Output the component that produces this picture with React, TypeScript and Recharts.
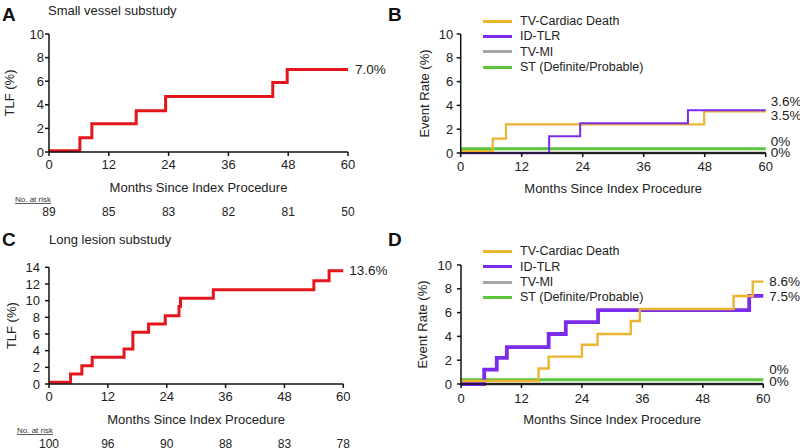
import React from 'react';
import { LineChart, Line, XAxis, YAxis, Legend, LabelList } from 'recharts';

const FONT = '"Liberation Sans", Arial, Helvetica, sans-serif';

const monthTicks = [0, 12, 24, 36, 48, 60];
const xLabel = 'Months Since Index Procedure';

// Panel A – Small vessel substudy (TLF)
const aMonths = [0, 6.2, 8.6, 17.5, 23.4, 44.9, 47.8, 60];
const aTlf = [0.1, 1.2, 2.4, 3.5, 4.7, 5.9, 7.0, 7.0];
const aRisk = [89, 85, 83, 82, 81, 50];
const aYTicks = [0, 2, 4, 6, 8, 10];

// Panel B – Small vessel components
const bDeathMonths = [0, 6.3, 8.9, 47.9, 60];
const bDeath = [0.15, 1.2, 2.4, 3.5, 3.5];
const bTlrMonths = [0, 17.4, 23.5, 44.7, 60];
const bTlr = [0, 1.4, 2.5, 3.6, 3.6];
const bMiMonths = [0, 60];
const bMi = [0, 0];
const bStMonths = [0, 60];
const bSt = [0.35, 0.35];

// Panel C – Long lesion substudy (TLF)
const cMonths = [0, 4.4, 6.7, 8.8, 15.3, 17.1, 20.3, 23.7, 26.5, 26.8, 33.5, 54.0, 57.1, 60];
const cTlf = [0.2, 1.2, 2.2, 3.2, 4.2, 6.2, 7.2, 8.2, 9.3, 10.3, 11.3, 12.4, 13.6, 13.6];
const cRisk = [100, 96, 90, 88, 83, 78];
const cYTicks = [0, 2, 4, 6, 8, 10, 12, 14];

// Panel D – Long lesion components
const dDeathMonths = [0, 15.4, 17.4, 24.0, 27.1, 33.7, 35.5, 54.1, 57.9, 60];
const dDeath = [0.25, 1.3, 2.3, 3.3, 4.2, 5.3, 6.3, 7.4, 8.6, 8.6];
const dTlrMonths = [0, 4.6, 7.1, 9.1, 17.4, 20.8, 27.2, 57.2, 60];
const dTlr = [0, 1.2, 2.2, 3.1, 4.2, 5.2, 6.2, 7.4, 7.4];
const dMiMonths = [0, 60];
const dMi = [0, 0];
const dStMonths = [0, 60];
const dSt = [0.35, 0.35];

const eventYTicks = [0, 2, 4, 6, 8, 10];

const names = {
  death: 'TV-Cardiac Death',
  tlr: 'ID-TLR',
  mi: 'TV-MI',
  st: 'ST (Definite/Probable)',
};

const colors = {
  red: '#E3161D',
  death: '#EBB431',
  tlr: '#7B2BEA',
  mi: '#A6A6A6',
  miLine: '#555555',
  st: '#5CC53B',
};

const endLabelsA = ['7.0%'];
const endLabelsB = { death: '3.5%', tlr: '3.6%', mi: '0%', st: '0%' };
const endLabelsC = ['13.6%'];
const endLabelsD = { death: '8.6%', tlr: '7.5%', mi: '0%', st: '0%' };

const pts = (ms: number[], vs: number[]) => ms.map((m, i) => ({ m, v: vs[i] }));

type Series = {
  key: string;
  name: string;
  data: { m: number; v: number }[];
  color: string;
  legendColor?: string;
  width: number;
  endLabel: string;
  dx: number;
  dy: number;
};

type PanelProps = {
  left: number;
  top: number;
  margin: { top: number; right: number; left: number; bottom: number };
  yWidth: number;
  yTicks: number[];
  yMax: number;
  yLabel: string;
  yLabelOffset: number;
  yTickMargin: number;
  xTickMargin: number;
  series: Series[];
  risk?: number[];
  riskHeight?: number;
  legend?: { left: number; top: number; order: string[] };
};

const makeEndLabel = (s: Series) => (props: any) => {
  const { x, y, index } = props;
  if (index !== s.data.length - 1) return null;
  return (
    <text
      x={Number(x) + s.dx}
      y={Number(y) + s.dy}
      dominantBaseline="central"
      fontSize={13.5}
      fontFamily={FONT}
      fill="#222"
    >
      {s.endLabel}
    </text>
  );
};

const Panel = (p: PanelProps) => {
  const legendContent = () => {
    if (!p.legend) return null;
    const items = p.legend.order.map((k) => p.series.find((s) => s.key === k)!);
    return (
      <div style={{ fontFamily: FONT, fontSize: 12.5, color: '#222' }}>
        {items.map((it) => (
          <div key={it.key} style={{ display: 'flex', alignItems: 'center', height: 15.3 }}>
            <div
              style={{ width: 29, height: 3, background: it.legendColor || it.color, marginRight: 8 }}
            />
            <span style={{ whiteSpace: 'nowrap' }}>{it.name}</span>
          </div>
        ))}
      </div>
    );
  };
  return (
    <div style={{ position: 'absolute', left: p.left, top: p.top }}>
      <LineChart width={400} height={224} margin={p.margin} style={{ fontFamily: FONT }}>
        <XAxis
          dataKey="m"
          type="number"
          domain={[0, 60]}
          ticks={monthTicks}
          interval={0}
          height={40}
          stroke="#111"
          strokeWidth={1.5}
          tickSize={4}
          tickMargin={p.xTickMargin}
          tick={{ fontSize: 13, fill: '#222', fontFamily: FONT }}
          label={{
            value: xLabel,
            position: 'insideBottom',
            offset: 0,
            style: { fontSize: 13, fill: '#222', fontFamily: FONT },
          }}
        />
        {p.risk && (
          <XAxis
            xAxisId="risk"
            dataKey="m"
            type="number"
            domain={[0, 60]}
            allowDataOverflow
            ticks={monthTicks}
            interval={0}
            height={p.riskHeight}
            axisLine={false}
            tickLine={false}
            tickSize={6}
            tickMargin={9}
            tickFormatter={(v: number) => String(p.risk![monthTicks.indexOf(v)])}
            tick={{ fontSize: 12, fill: '#222', fontFamily: FONT }}
          />
        )}
        <YAxis
          type="number"
          domain={[0, p.yMax]}
          ticks={p.yTicks}
          interval={0}
          width={p.yWidth}
          stroke="#111"
          strokeWidth={1.5}
          tickSize={4}
          tickMargin={p.yTickMargin}
          tick={{ fontSize: 13, fill: '#222', fontFamily: FONT }}
          label={{
            value: p.yLabel,
            angle: -90,
            position: 'insideLeft',
            offset: p.yLabelOffset,
            style: { fontSize: 13, fill: '#222', fontFamily: FONT, textAnchor: 'middle' },
          }}
        />
        {p.legend && (
          <Legend
            layout="vertical"
            align="center"
            verticalAlign="middle"
            content={legendContent}
            wrapperStyle={{ left: p.legend.left, top: p.legend.top, width: 200, height: 62 }}
          />
        )}
        {p.series.map((s) => (
          <Line
            key={s.key}
            name={s.name}
            data={s.data}
            dataKey="v"
            type="stepAfter"
            stroke={s.color}
            strokeWidth={s.width}
            dot={false}
            activeDot={false}
            isAnimationActive={false}
            legendType="plainline"
          >
            <LabelList dataKey="v" content={makeEndLabel(s)} />
          </Line>
        ))}
      </LineChart>
    </div>
  );
};

const seriesA: Series[] = [
  { key: 'tlf', name: 'TLF', data: pts(aMonths, aTlf), color: colors.red, width: 3, endLabel: endLabelsA[0], dx: 7, dy: 0.5 },
];

const seriesB: Series[] = [
  { key: 'mi', name: names.mi, data: pts(bMiMonths, bMi), color: colors.miLine, legendColor: colors.mi, width: 2.5, endLabel: endLabelsB.mi, dx: 5, dy: -1 },
  { key: 'st', name: names.st, data: pts(bStMonths, bSt), color: colors.st, width: 3, endLabel: endLabelsB.st, dx: 5, dy: -7 },
  { key: 'death', name: names.death, data: pts(bDeathMonths, bDeath), color: colors.death, width: 2.2, endLabel: endLabelsB.death, dx: 5, dy: 4.5 },
  { key: 'tlr', name: names.tlr, data: pts(bTlrMonths, bTlr), color: colors.tlr, width: 2, endLabel: endLabelsB.tlr, dx: 5, dy: -9 },
];

const seriesC: Series[] = [
  { key: 'tlf', name: 'TLF', data: pts(cMonths, cTlf), color: colors.red, width: 3, endLabel: endLabelsC[0], dx: 6, dy: 0 },
];

const seriesD: Series[] = [
  { key: 'mi', name: names.mi, data: pts(dMiMonths, dMi), color: colors.miLine, legendColor: colors.mi, width: 2.5, endLabel: endLabelsD.mi, dx: 6, dy: -3 },
  { key: 'st', name: names.st, data: pts(dStMonths, dSt), color: colors.st, width: 3, endLabel: endLabelsD.st, dx: 6, dy: -10 },
  { key: 'tlr', name: names.tlr, data: pts(dTlrMonths, dTlr), color: colors.tlr, width: 3.8, endLabel: endLabelsD.tlr, dx: 6, dy: 1 },
  { key: 'death', name: names.death, data: pts(dDeathMonths, dDeath), color: colors.death, width: 2.4, endLabel: endLabelsD.death, dx: 6, dy: 0 },
];

const legendOrder = ['death', 'tlr', 'mi', 'st'];

export default function App() {
  return (
    <div
      style={{
        position: 'absolute',
        left: 0,
        top: 0,
        width: 800,
        height: 448,
        background: '#fff',
        overflow: 'hidden',
        fontFamily: FONT,
      }}
    >
      <Panel
        left={0}
        top={0}
        margin={{ top: 34, right: 52, left: 0, bottom: 2 }}
        yWidth={49}
        yTicks={aYTicks}
        yMax={10}
        yLabel="TLF (%)"
        yLabelOffset={9}
        yTickMargin={1}
        xTickMargin={4}
        series={seriesA}
        risk={aRisk}
        riskHeight={30}
      />
      <Panel
        left={400}
        top={0}
        margin={{ top: 34, right: 34.3, left: 0, bottom: 31 }}
        yWidth={60.7}
        yTicks={eventYTicks}
        yMax={10}
        yLabel="Event Rate (%)"
        yLabelOffset={24}
        yTickMargin={3.5}
        xTickMargin={5}
        series={seriesB}
        legend={{ left: 83, top: 13.5, order: legendOrder }}
      />
      <Panel
        left={0}
        top={224}
        margin={{ top: 43.3, right: 56.7, left: 0, bottom: 0 }}
        yWidth={49}
        yTicks={cYTicks}
        yMax={14}
        yLabel="TLF (%)"
        yLabelOffset={11}
        yTickMargin={5}
        xTickMargin={4}
        series={seriesC}
        risk={cRisk}
        riskHeight={24}
      />
      <Panel
        left={400}
        top={224}
        margin={{ top: 41, right: 36.7, left: 0, bottom: 24 }}
        yWidth={61}
        yTicks={eventYTicks}
        yMax={10}
        yLabel="Event Rate (%)"
        yLabelOffset={22}
        yTickMargin={5}
        xTickMargin={6}
        series={seriesD}
        legend={{ left: 83, top: 19.8, order: legendOrder }}
      />
      <svg
        width={800}
        height={448}
        style={{ position: 'absolute', left: 0, top: 0, pointerEvents: 'none' }}
      >
        <g fontFamily={FONT} fill="#111">
          <text x={2} y={20.7} fontSize={19} fontWeight="bold">A</text>
          <text x={388} y={20.7} fontSize={19} fontWeight="bold">B</text>
          <text x={2} y={245.5} fontSize={19} fontWeight="bold">C</text>
          <text x={388} y={245.5} fontSize={19} fontWeight="bold">D</text>
          <text x={48} y={15} fontSize={13} fill="#222">Small vessel substudy</text>
          <text x={49} y={243.5} fontSize={13} fill="#222">Long lesion substudy</text>
          <text x={15} y={202} fontSize={8} fill="#333" textDecoration="underline">No. at risk</text>
          <text x={17} y={433} fontSize={8} fill="#333" textDecoration="underline">No. at risk</text>
        </g>
      </svg>
    </div>
  );
}
